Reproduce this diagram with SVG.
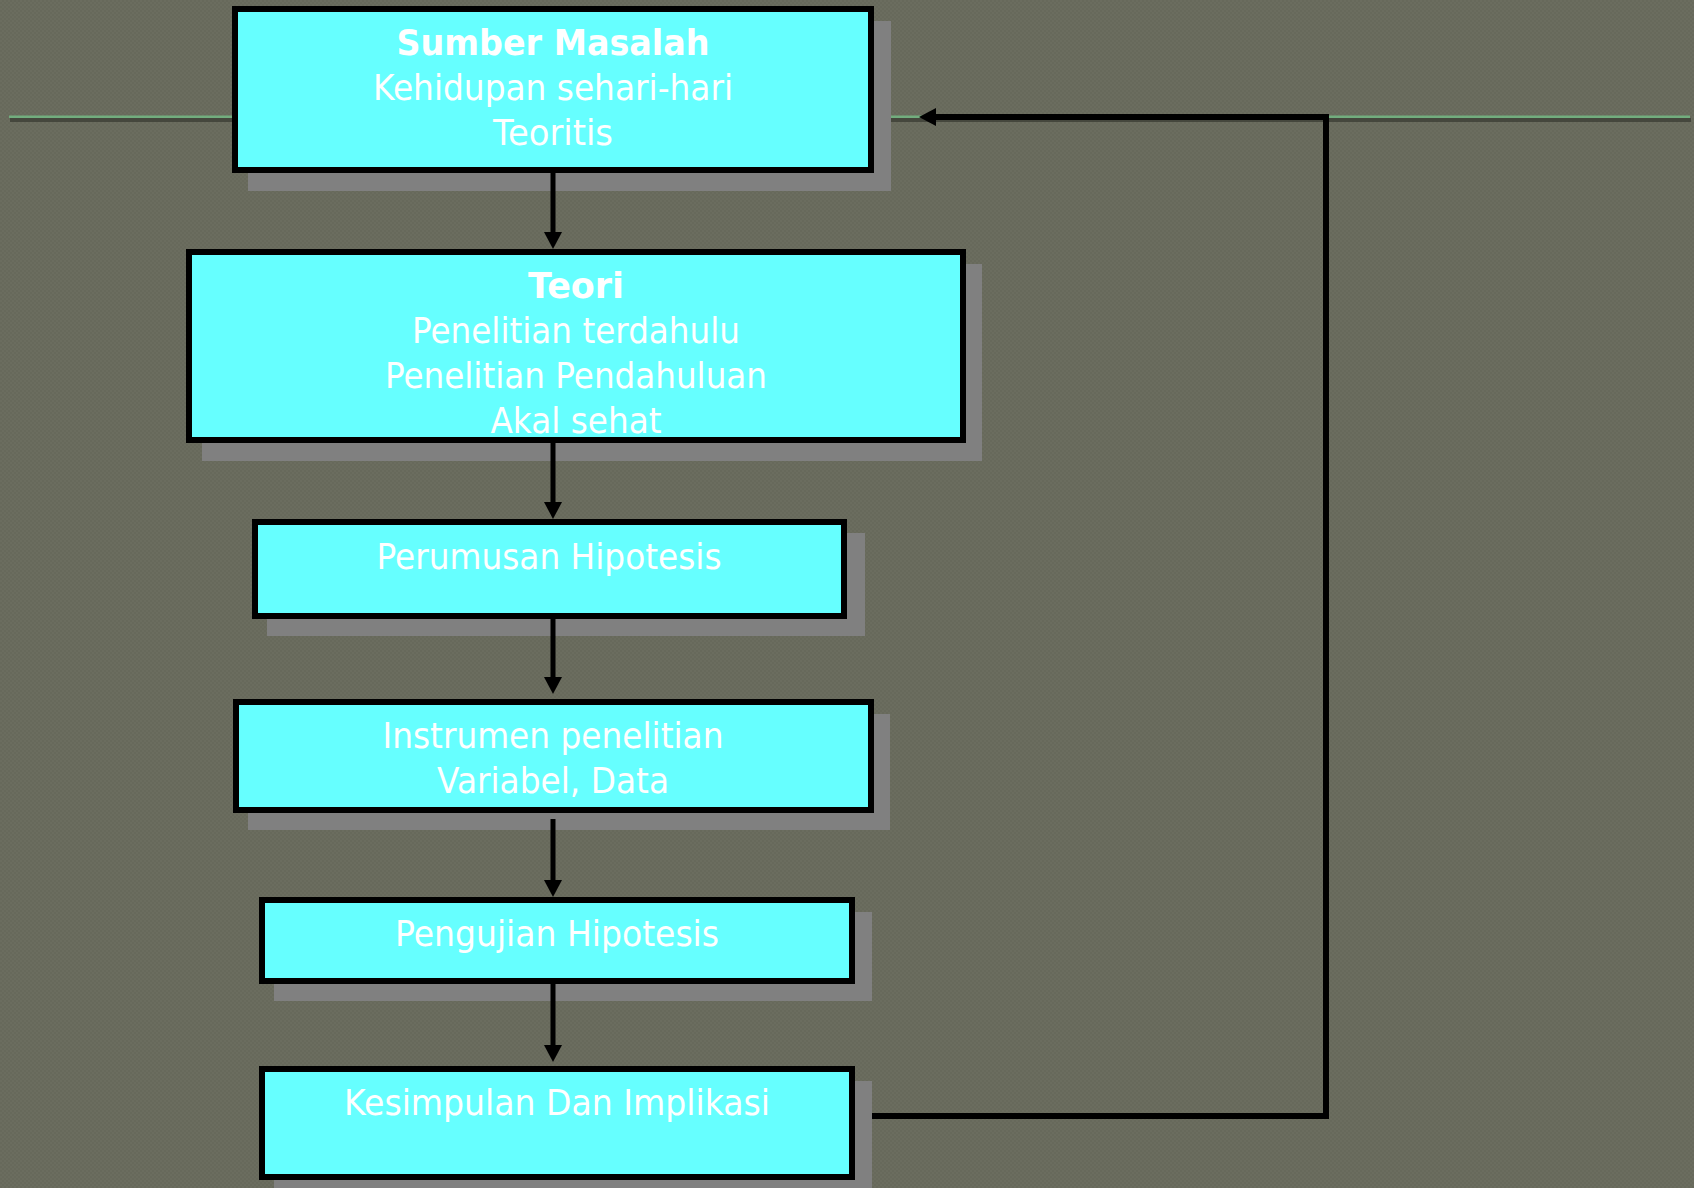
<svg xmlns="http://www.w3.org/2000/svg" width="1694" height="1188" viewBox="0 0 1694 1188">
  <style>
    .shadow { fill: #808080; }
    .box { fill: #66ffff; stroke: #000000; stroke-width: 6; }
    .lbl { font-family: "DejaVu Sans", Verdana, sans-serif; font-size: 36px; fill: #ffffff; text-anchor: middle; }
    .b { font-weight: bold; }
    .conn { fill: none; stroke: #000000; stroke-width: 5; }
    .loop { fill: none; stroke: #000000; stroke-width: 6; }
  </style>
  <defs>
    <pattern id="grain" width="4" height="4" patternUnits="userSpaceOnUse">
      <rect width="4" height="4" fill="#67695b"/>
      <rect width="2" height="2" fill="#6b6d5f"/>
      <rect x="2" y="2" width="2" height="2" fill="#6b6d5f"/>
    </pattern>
    <marker id="arrow" markerUnits="userSpaceOnUse" viewBox="0 -9 17 18" refX="1" refY="0" markerWidth="17" markerHeight="18" orient="auto">
      <path d="M0,-9 L17,0 L0,9 Z" fill="#000000"/>
    </marker>
  </defs>

  <!-- slide background -->
  <rect width="1694" height="1188" fill="url(#grain)"/>

  <!-- horizontal rule across the slide -->
  <rect x="10" y="118" width="1681" height="4" fill="#45473d"/>
  <rect x="9" y="115.5" width="1681" height="2.5" fill="#72ad7e"/>

  <g id="sumber-masalah">
    <rect class="shadow" x="248" y="21" width="643" height="170"/>
    <rect class="box" x="235" y="9" width="636" height="161"/>
    <text class="lbl b" x="553" y="55" textLength="313" lengthAdjust="spacingAndGlyphs">Sumber Masalah</text>
    <text class="lbl" x="553" y="100" textLength="360" lengthAdjust="spacingAndGlyphs">Kehidupan sehari-hari</text>
    <text class="lbl" x="553" y="145" textLength="120" lengthAdjust="spacingAndGlyphs">Teoritis</text>
  </g>

  <g id="teori">
    <rect class="shadow" x="202" y="264" width="780" height="197"/>
    <rect class="box" x="189" y="252" width="774" height="188"/>
    <text class="lbl b" x="576" y="298" textLength="96" lengthAdjust="spacingAndGlyphs">Teori</text>
    <text class="lbl" x="576" y="343" textLength="328" lengthAdjust="spacingAndGlyphs">Penelitian terdahulu</text>
    <text class="lbl" x="576" y="388" textLength="382" lengthAdjust="spacingAndGlyphs">Penelitian Pendahuluan</text>
    <text class="lbl" x="576" y="433" textLength="171" lengthAdjust="spacingAndGlyphs">Akal sehat</text>
  </g>

  <g id="perumusan-hipotesis">
    <rect class="shadow" x="267" y="533" width="598" height="103"/>
    <rect class="box" x="255" y="522" width="589" height="94"/>
    <text class="lbl" x="549" y="569" textLength="345" lengthAdjust="spacingAndGlyphs">Perumusan Hipotesis</text>
  </g>

  <g id="instrumen-penelitian">
    <rect class="shadow" x="248" y="714" width="642" height="116"/>
    <rect class="box" x="236" y="702" width="635" height="108"/>
    <text class="lbl" x="553" y="748" textLength="341" lengthAdjust="spacingAndGlyphs">Instrumen penelitian</text>
    <text class="lbl" x="553" y="793" textLength="232" lengthAdjust="spacingAndGlyphs">Variabel, Data</text>
  </g>

  <g id="pengujian-hipotesis">
    <rect class="shadow" x="274" y="912" width="598" height="89"/>
    <rect class="box" x="262" y="900" width="590" height="81"/>
    <text class="lbl" x="557" y="946" textLength="324" lengthAdjust="spacingAndGlyphs">Pengujian Hipotesis</text>
  </g>

  <g id="kesimpulan-implikasi">
    <rect class="shadow" x="274" y="1081" width="598" height="117"/>
    <rect class="box" x="262" y="1069" width="590" height="108"/>
    <text class="lbl" x="557" y="1115" textLength="426" lengthAdjust="spacingAndGlyphs">Kesimpulan Dan Implikasi</text>
  </g>

  <!-- flow connectors, drawn over the drop shadows -->
  <g id="connectors">
    <path class="conn" d="M553 173 V233" marker-end="url(#arrow)"/>
    <path class="conn" d="M553 443 V503" marker-end="url(#arrow)"/>
    <path class="conn" d="M553 619 V678" marker-end="url(#arrow)"/>
    <path class="conn" d="M553 819 V881" marker-end="url(#arrow)"/>
    <path class="conn" d="M553 984 V1046" marker-end="url(#arrow)"/>
    <path class="loop" d="M872 1116 H1326 V117 H935" marker-end="url(#arrow)"/>
  </g>
</svg>
